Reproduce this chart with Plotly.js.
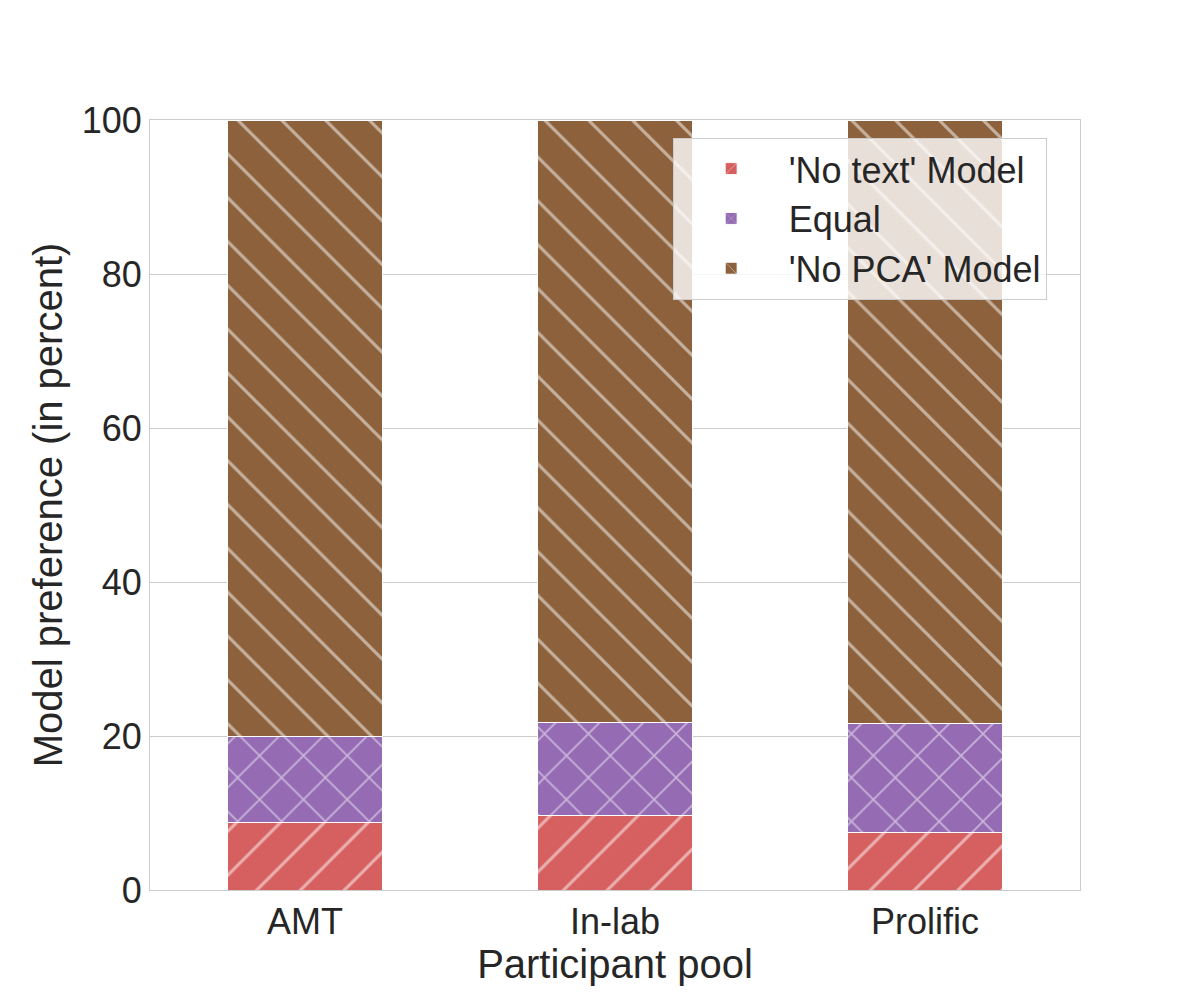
<!DOCTYPE html>
<html>
<head>
<meta charset="utf-8">
<script src="https://cdn.plot.ly/plotly-3.0.1.min.js"></script>
<style>
  html, body { margin: 0; padding: 0; background: #fff; }
  #chart { width: 1200px; height: 1000px; }
</style>
</head>
<body>
<div id="chart"></div>
<script>
const pools = ["AMT", "In-lab", "Prolific"];
const noText = [8.8, 9.7, 7.5];
const equal = [11.2, 12.1, 14.15];
const noPca = [80.0, 78.2, 78.35];

const red = "#d65f5f",
  purple = "#956cb4",
  brown = "#8c613c",
  ink = "#262626";

const hatch = (shape) => ({ shape: shape, fgcolor: "#ffffff", size: 31, solidity: 0.1, fillmode: "overlay" });

const bar = (name, y, color, shape) => ({
  type: "bar",
  name: name,
  x: pools,
  y: y,
  width: 0.5,
  marker: { color: color, line: { color: "#ffffff", width: 1 }, pattern: hatch(shape) },
  hoverinfo: "skip",
});

Plotly.newPlot(
  "chart",
  [
    bar("'No text' Model", noText, red, "/"),
    bar("Equal", equal, purple, "x"),
    bar("'No PCA' Model", noPca, brown, "\\"),
  ],
  {
    width: 1200,
    height: 1000,
    barmode: "stack",
    margin: { t: 120, b: 110, l: 150, r: 120 },
    paper_bgcolor: "#ffffff",
    plot_bgcolor: "#ffffff",
    font: { family: "Liberation Sans, Arial, sans-serif", size: 36, color: ink },
    xaxis: {
      range: [-0.5, 2.5],
      showgrid: false,
      ticks: "",
      showline: true,
      linecolor: "#cccccc",
      mirror: true,
      tickfont: { size: 36 },
      title: { text: "Participant pool", font: { size: 40 }, standoff: 4 },
    },
    yaxis: {
      range: [0, 100],
      tickvals: [0, 20, 40, 60, 80, 100],
      gridcolor: "#cccccc",
      gridwidth: 1,
      zeroline: false,
      ticks: "",
      showline: true,
      linecolor: "#cccccc",
      mirror: true,
      tickfont: { size: 36 },
      title: { text: "Model preference (in percent)", font: { size: 40 }, standoff: 6 },
    },
    legend: {
      x: 0.562,
      y: 0.977,
      xanchor: "left",
      yanchor: "top",
      traceorder: "normal",
      bgcolor: "rgba(255,255,255,0.8)",
      bordercolor: "#cccccc",
      borderwidth: 1,
      font: { size: 36 },
      itemwidth: 105,
      tracegroupgap: 4,
    },
  },
  { displayModeBar: false, staticPlot: true },
);
</script>
</body>
</html>
